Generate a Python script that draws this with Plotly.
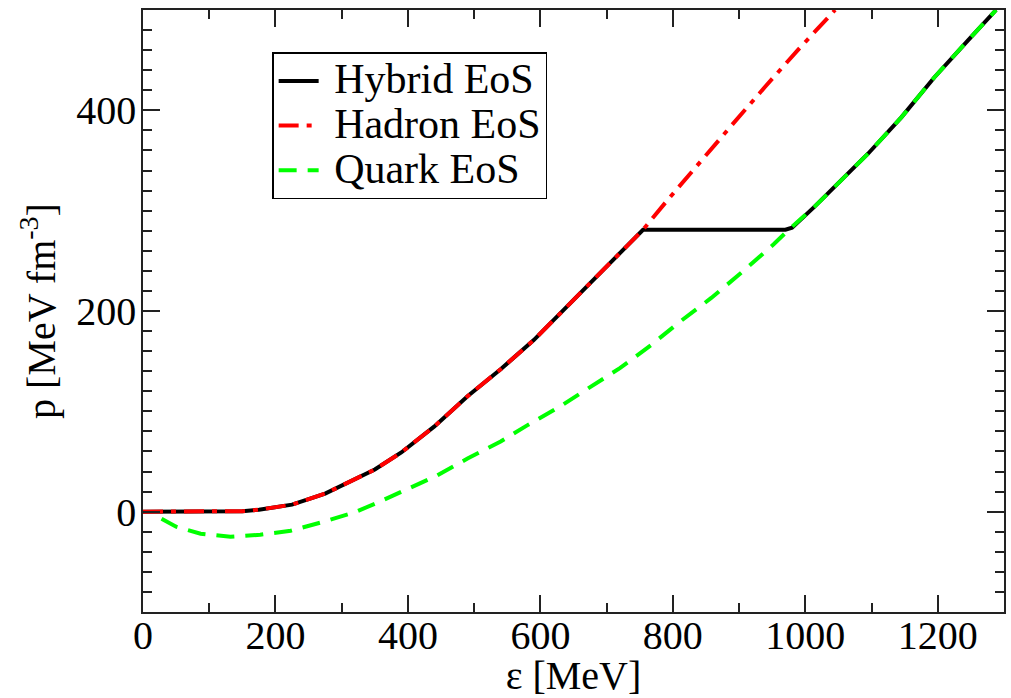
import plotly.graph_objects as go

# Hadron EoS
had_e = [0, 50, 100, 150, 175, 225, 275, 350, 390, 440, 490, 540, 590, 640, 690, 740, 755,
         790, 840, 890, 940, 990, 1045]
had_p = [0, 0, 0, 0.5, 2, 7, 18, 42, 59, 85, 115, 142, 171, 204, 237, 271, 281,
         309, 348, 386, 424, 461, 500]

# Quark EoS
qrk_e = [28, 50, 87, 132, 177, 223, 273, 318, 354, 399, 444, 490, 540, 580, 630, 670, 720,
         767, 812, 858, 905, 953, 975, 1014, 1044, 1095, 1145, 1195, 1246, 1288]
qrk_p = [-7, -15, -22, -25, -23, -19, -10, -1, 9, 22, 36, 53, 70, 86, 105, 122, 143,
         166, 190, 213, 239, 267, 281, 304, 324, 357, 393, 433, 470, 500]

# Hybrid EoS (Maxwell construction)
hyb_e = [0, 50, 100, 150, 175, 225, 275, 350, 390, 440, 490, 540, 590, 640, 690, 740, 755,
         970, 980, 1014, 1044, 1095, 1145, 1195, 1246, 1288]
hyb_p = [0, 0, 0, 0.5, 2, 7, 18, 42, 59, 85, 115, 142, 171, 204, 237, 271, 281,
         281, 283, 304, 324, 357, 393, 433, 470, 500]

names = ["Hybrid EoS", "Hadron EoS", "Quark EoS"]

FONT = "Liberation Serif, Times New Roman, serif"


def big(t):
    return '<span style="font-size:42px">\u2005' + t + '</span>'


fig = go.Figure()
fig.add_trace(go.Scatter(x=hyb_e, y=hyb_p, mode="lines", name=big(names[0]),
                         line=dict(color="black", width=4)))
fig.add_trace(go.Scatter(x=had_e, y=had_p, mode="lines", name=big(names[1]),
                         line=dict(color="#ff0000", width=4, dash="20px,8px,5px,8px")))
fig.add_trace(go.Scatter(x=qrk_e, y=qrk_p, mode="lines", name=big(names[2]),
                         line=dict(color="#00ff00", width=4, dash="18px,11px")))

axis_common = dict(
    showline=True, linecolor="#222", linewidth=1.5, mirror="ticks",
    ticks="inside", tickcolor="#222", tickwidth=1.5,
    showgrid=False, zeroline=False, automargin=False,
    tickfont=dict(family=FONT, size=40, color="black"),
)

fig.update_xaxes(range=[0, 1300], tick0=0, dtick=200, ticklen=17, ticklabelstandoff=-13,
                 minor=dict(dtick=100, ticks="inside", ticklen=9, tickcolor="#222", tickwidth=1.5, showgrid=False),
                 title=dict(text="ε [MeV]", font=dict(family=FONT, size=40, color="black"), standoff=0),
                 **axis_common)
fig.update_yaxes(range=[-100, 500], tick0=0, dtick=200, ticklen=17, ticklabelstandoff=-3,
                 minor=dict(dtick=20, ticks="inside", ticklen=9, tickcolor="#222", tickwidth=1.5, showgrid=False),
                 title=dict(text="p [MeV fm<sup>-3</sup>]", font=dict(family=FONT, size=40, color="black"), standoff=8),
                 **axis_common)

fig.update_layout(
    width=1011, height=698,
    margin=dict(l=143, r=7, t=10, b=86),
    paper_bgcolor="white", plot_bgcolor="white",
    showlegend=True,
    legend=dict(x=0.15, y=0.93, xanchor="left", yanchor="top",
                bordercolor="black", borderwidth=1.5, bgcolor="white",
                font=dict(family=FONT, size=32, color="black"),
                tracegroupgap=0, itemwidth=40),
)

fig.write_html("out.html")
